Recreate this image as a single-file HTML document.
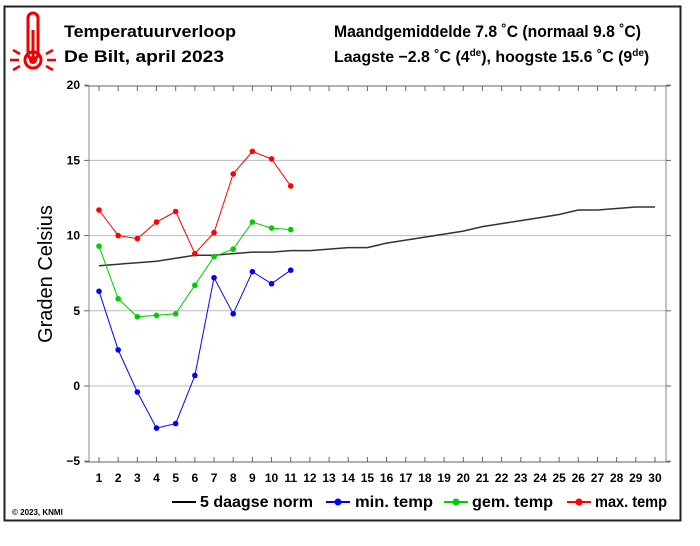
<!DOCTYPE html>
<html><head><meta charset="utf-8"><style>
body{margin:0;background:#fff;width:700px;height:541px;overflow:hidden}
svg text{font-family:"Liberation Sans",Arial,sans-serif}
</style></head><body>
<svg id="s" width="700" height="541" xmlns="http://www.w3.org/2000/svg">
<rect x="4.5" y="6.5" width="676" height="514" fill="none" stroke="#222" stroke-width="2"/>
<g fill="#e00" stroke="#e00">
<rect x="28" y="13" width="10" height="46" rx="5" fill="none" stroke-width="3"/>
<circle cx="33" cy="60" r="8" fill="none" stroke-width="3"/>
<circle cx="33" cy="60" r="4" stroke="none"/>
<line x1="33" y1="30" x2="33" y2="58" stroke-width="3"/>
<g stroke-width="2.5"><line x1="10" y1="60" x2="19" y2="60"/><line x1="47" y1="60" x2="56" y2="60"/><line x1="13" y1="50" x2="20" y2="54"/><line x1="53" y1="50" x2="46" y2="54"/><line x1="13" y1="70" x2="20" y2="66"/><line x1="53" y1="70" x2="46" y2="66"/></g>
</g>
<g font-weight="bold" font-size="16.5" fill="#000">
<text x="64" y="37" textLength="172" lengthAdjust="spacingAndGlyphs">Temperatuurverloop</text>
<text x="64" y="62" textLength="160" lengthAdjust="spacingAndGlyphs">De Bilt, april 2023</text>
<text x="334" y="37" textLength="307" lengthAdjust="spacingAndGlyphs">Maandgemiddelde 7.8 ˚C (normaal 9.8 ˚C)</text>
<text x="334" y="62" font-size="15.9">Laagste −2.8 ˚C (4<tspan font-size="10" dy="-6">de</tspan><tspan dy="6">), hoogste 15.6 ˚C (9</tspan><tspan font-size="10" dy="-6">de</tspan><tspan dy="6">)</tspan></text>
</g>
<g id="g"></g>
<text x="52" y="274" font-size="20" transform="rotate(-90 52 274)" text-anchor="middle">Graden Celsius</text>
<g font-size="15.5" font-weight="bold">
<line x1="172" y1="502" x2="196" y2="502" stroke="#000" stroke-width="2"/><text x="200" y="507" textLength="113" lengthAdjust="spacingAndGlyphs">5 daagse norm</text>
<line x1="326" y1="502" x2="350" y2="502" stroke="#00f" stroke-width="2"/><circle cx="338" cy="502" r="3.5" fill="#00f"/><text x="355" y="507" textLength="78" lengthAdjust="spacingAndGlyphs">min. temp</text>
<line x1="444" y1="502" x2="468" y2="502" stroke="#0c0" stroke-width="2"/><circle cx="456" cy="502" r="3.5" fill="#0c0"/><text x="472" y="507" textLength="81" lengthAdjust="spacingAndGlyphs">gem. temp</text>
<line x1="567" y1="502" x2="591" y2="502" stroke="#f00" stroke-width="2"/><circle cx="579" cy="502" r="3.5" fill="#f00"/><text x="595" y="507" textLength="72" lengthAdjust="spacingAndGlyphs">max. temp</text>
</g>
<text x="12" y="515" font-size="8" font-weight="bold">© 2023, KNMI</text>
</svg>
<script>
var g=document.getElementById('g'),h='';
function X(d){return 99+(d-1)*19.172;}function Y(v){return 386-15.04*v;}
[0,5,10,15].forEach(function(v){h+='<line x1="89" x2="666" y1="'+Y(v)+'" y2="'+Y(v)+'" stroke="#bbb" stroke-width="1"/>';});
h+='<line x1="89" y1="86" x2="89" y2="462" stroke="#888"/><line x1="666" y1="86" x2="666" y2="462" stroke="#888"/>';
h+='<line x1="85" y1="86" x2="670" y2="86" stroke="#666"/><line x1="85" y1="462" x2="670" y2="462" stroke="#666"/>';
[-5,0,5,10,15,20].forEach(function(v){var y=Y(v);h+='<line x1="84" x2="89" y1="'+y+'" y2="'+y+'" stroke="#666"/><line x1="666" x2="671" y1="'+y+'" y2="'+y+'" stroke="#666"/><text x="80" y="'+(y+4)+'" font-size="12" font-weight="bold" text-anchor="end">'+(v<0?'−5':v)+'</text>';});
for(var d=1;d<=30;d++){var x=X(d);h+='<line x1="'+x+'" x2="'+x+'" y1="86" y2="91" stroke="#666"/><line x1="'+x+'" x2="'+x+'" y1="457" y2="462" stroke="#666"/><text x="'+x+'" y="482" font-size="12" font-weight="bold" text-anchor="middle">'+d+'</text>';}
function ser(a,c,dots,w){var p=a.map(function(v,i){return X(i+1).toFixed(1)+','+Y(v).toFixed(1)}).join(' ');h+='<polyline points="'+p+'" fill="none" stroke="'+c+'" stroke-width="'+w+'"/>';if(dots)a.forEach(function(v,i){h+='<circle cx="'+X(i+1)+'" cy="'+Y(v)+'" r="2.8" fill="'+c+'"/>';});}
ser([8.0,8.1,8.2,8.3,8.5,8.7,8.7,8.8,8.9,8.9,9.0,9.0,9.1,9.2,9.2,9.5,9.7,9.9,10.1,10.3,10.6,10.8,11.0,11.2,11.4,11.7,11.7,11.8,11.9,11.9],'#333',0,1.5);
ser([6.3,2.4,-0.4,-2.8,-2.5,0.7,7.2,4.8,7.6,6.8,7.7],'#00f',1,1);
ser([9.3,5.8,4.6,4.7,4.8,6.7,8.6,9.1,10.9,10.5,10.4],'#0c0',1,1);
ser([11.7,10.0,9.8,10.9,11.6,8.8,10.2,14.1,15.6,15.1,13.3],'#f00',1,1);
g.innerHTML=h;
</script>
</body></html>
